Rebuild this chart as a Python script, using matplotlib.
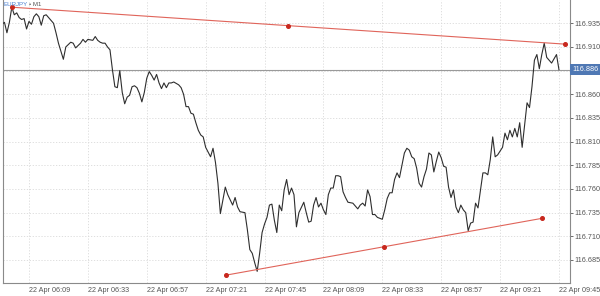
import numpy as np
import pandas as pd
import matplotlib
matplotlib.use("Agg")
import matplotlib.pyplot as plt
import matplotlib.dates as mdates

plt.rcParams['font.family'] = ['Liberation Sans', 'DejaVu Sans']

# EURJPY M1, 22 Apr : minutes after 06:00 and close prices
start = pd.Timestamp("2019-04-22 06:00")
minutes = [-2, -1, 0, 1, 2, 3, 4, 5, 6, 7, 8, 9, 10, 11, 12, 13, 14, 15, 16, 17,
           19, 20, 21, 23, 24, 26, 27, 28, 30, 31, 32, 33, 35, 36, 37, 38, 39, 40, 41, 42,
           43, 44, 45, 46, 47, 48, 49, 50, 51, 52, 53, 54, 55, 56, 57, 58, 59, 60, 61, 62,
           63, 64, 65, 66, 67, 68, 70, 71, 72, 73, 74, 75, 76, 77, 78, 79, 80, 81, 82, 83,
           84, 85, 86, 87, 88, 89, 90, 92, 93, 94, 95, 97, 98, 99, 100, 101, 102, 103, 104, 105,
           106, 107, 108, 109, 110, 111, 112, 113, 114, 115, 116, 117, 118, 119, 121, 122, 123, 124, 125, 126,
           127, 128, 129, 130, 131, 132, 133, 134, 135, 136, 137, 138, 139, 141, 142, 143, 144, 145, 146, 147,
           148, 149, 150, 151, 152, 153, 154, 155, 156, 157, 158, 159, 160, 161, 162, 163, 164, 165, 166, 167,
           168, 169, 170, 171, 172, 173, 174, 175, 176, 177, 178, 179, 180, 181, 182, 183, 184, 185, 186, 187,
           188, 189, 190, 191, 192, 194, 195, 196, 197, 198, 199, 200, 202, 203, 204, 205, 206, 207, 208, 209,
           210, 211, 212, 213, 214, 215, 216, 217, 218, 219, 220, 221, 222, 224, 225]
prices = [116.934, 116.936, 116.925, 116.936, 116.952, 116.944, 116.946, 116.941, 116.939, 116.940,
          116.929, 116.937, 116.934, 116.942, 116.945, 116.942, 116.933, 116.943, 116.944, 116.941,
          116.935, 116.925, 116.914, 116.897, 116.910, 116.915, 116.914, 116.909, 116.914, 116.918,
          116.915, 116.918, 116.917, 116.921, 116.917, 116.915, 116.914, 116.914, 116.910, 116.907,
          116.886, 116.868, 116.867, 116.885, 116.862, 116.850, 116.857, 116.859, 116.868, 116.869,
          116.867, 116.861, 116.852, 116.862, 116.877, 116.884, 116.880, 116.875, 116.881, 116.872,
          116.866, 116.872, 116.867, 116.872, 116.872, 116.873, 116.870, 116.867, 116.860, 116.847,
          116.847, 116.840, 116.839, 116.830, 116.822, 116.817, 116.815, 116.804, 116.799, 116.794,
          116.803, 116.788, 116.766, 116.734, 116.748, 116.762, 116.754, 116.743, 116.751, 116.741,
          116.736, 116.735, 116.717, 116.696, 116.692, 116.682, 116.673, 116.692, 116.714, 116.723,
          116.730, 116.743, 116.744, 116.727, 116.714, 116.743, 116.737, 116.759, 116.770, 116.754,
          116.761, 116.754, 116.720, 116.735, 116.746, 116.735, 116.725, 116.726, 116.743, 116.751,
          116.741, 116.745, 116.738, 116.733, 116.754, 116.761, 116.761, 116.774, 116.774, 116.773,
          116.757, 116.751, 116.746, 116.745, 116.742, 116.739, 116.743, 116.745, 116.742, 116.759,
          116.752, 116.733, 116.733, 116.730, 116.729, 116.728, 116.738, 116.750, 116.756, 116.756,
          116.770, 116.777, 116.772, 116.785, 116.798, 116.803, 116.801, 116.794, 116.792, 116.782,
          116.766, 116.762, 116.773, 116.781, 116.798, 116.796, 116.778, 116.789, 116.799, 116.793,
          116.784, 116.783, 116.762, 116.751, 116.759, 116.741, 116.735, 116.743, 116.738, 116.735,
          116.716, 116.724, 116.725, 116.745, 116.740, 116.777, 116.777, 116.775, 116.791, 116.815,
          116.794, 116.796, 116.804, 116.819, 116.812, 116.822, 116.815, 116.824, 116.815, 116.830,
          116.804, 116.828, 116.851, 116.846, 116.868, 116.896, 116.902, 116.887, 116.902, 116.914,
          116.899, 116.896, 116.893, 116.902, 116.886]
last_price = 116.886

# trend lines (two anchor points each, minutes after 06:00)
upper_t = [2, 227.4]
upper_p = [116.952, 116.913]
lower_t = [89.3, 218.1]
lower_p = [116.669, 116.729]

tick_times = ["06:09", "06:33", "06:57", "07:21", "07:45", "08:09", "08:33", "08:57", "09:21", "09:45"]
ytick_vals = [116.685, 116.710, 116.735, 116.760, 116.785, 116.810, 116.835, 116.860, 116.885, 116.910, 116.935]


def to_num(mins):
    return mdates.date2num(start + pd.to_timedelta(np.asarray(mins, dtype=float), unit="min"))


fig = plt.figure(figsize=(6, 2.96), dpi=100)
ax = fig.add_axes([3 / 600, 13 / 296, 567 / 600, 283 / 296])

ax.plot(to_num(minutes), prices, color="#2e2e2e", lw=0.8, zorder=3)
ax.axhline(last_price, color="#9a9a9a", lw=0.8, zorder=2)

red = "#e0645a"
for tt, pp in [(upper_t, upper_p), (lower_t, lower_p)]:
    xs = to_num(tt)
    ax.plot(xs, pp, color=red, lw=0.8, zorder=4)
    ax.plot([xs[0], xs.mean(), xs[1]], [pp[0], np.mean(pp), pp[1]], "o",
            color="#c8281e", ms=2.6, zorder=5)

ax.set_xlim(to_num([-1.6, 229.5]))
ax.set_ylim(116.6607, 116.9596)

xt = [mdates.date2num(pd.Timestamp("2019-04-22 " + s)) for s in tick_times]
ax.set_xticks(xt)
ax.set_xticklabels(["22 Apr " + s for s in tick_times], ha="left")
ax.set_yticks(ytick_vals)
# the 116.885 label sits under the last-price box
ax.set_yticklabels(["" if abs(v - last_price) < 0.003 else f"{v:.3f}" for v in ytick_vals])
ax.yaxis.tick_right()
ax.tick_params(axis="both", labelsize=5.2, colors="#555555", length=2, width=0.6, pad=1)
ax.tick_params(axis="x", length=0, pad=3)

ax.grid(color="#d9d9d9", linestyle=(0, (1.5, 2)), linewidth=0.6, zorder=0)
ax.spines["top"].set_visible(False)
for s in ["left", "right", "bottom"]:
    ax.spines[s].set_color("#8a8a8a")
    ax.spines[s].set_linewidth(0.8)

ax.annotate(f"{last_price:.3f}", xy=(1.0, last_price), xycoords=("axes fraction", "data"),
            xytext=(1.5, 0), textcoords="offset points", ha="left", va="center",
            fontsize=5.2, color="white", zorder=10, annotation_clip=False,
            bbox=dict(boxstyle="square,pad=0.3", fc="#4f78b4", ec="none"))

fig.text(3 / 600, 1 - 5 / 296, "EURJPY", color="#4a7fd0", fontsize=4.4, va="center", ha="left")
fig.text(29 / 600, 1 - 5 / 296, "• M1", color="#555555", fontsize=4.4, va="center", ha="left")

fig.savefig("out.png", dpi=100)
